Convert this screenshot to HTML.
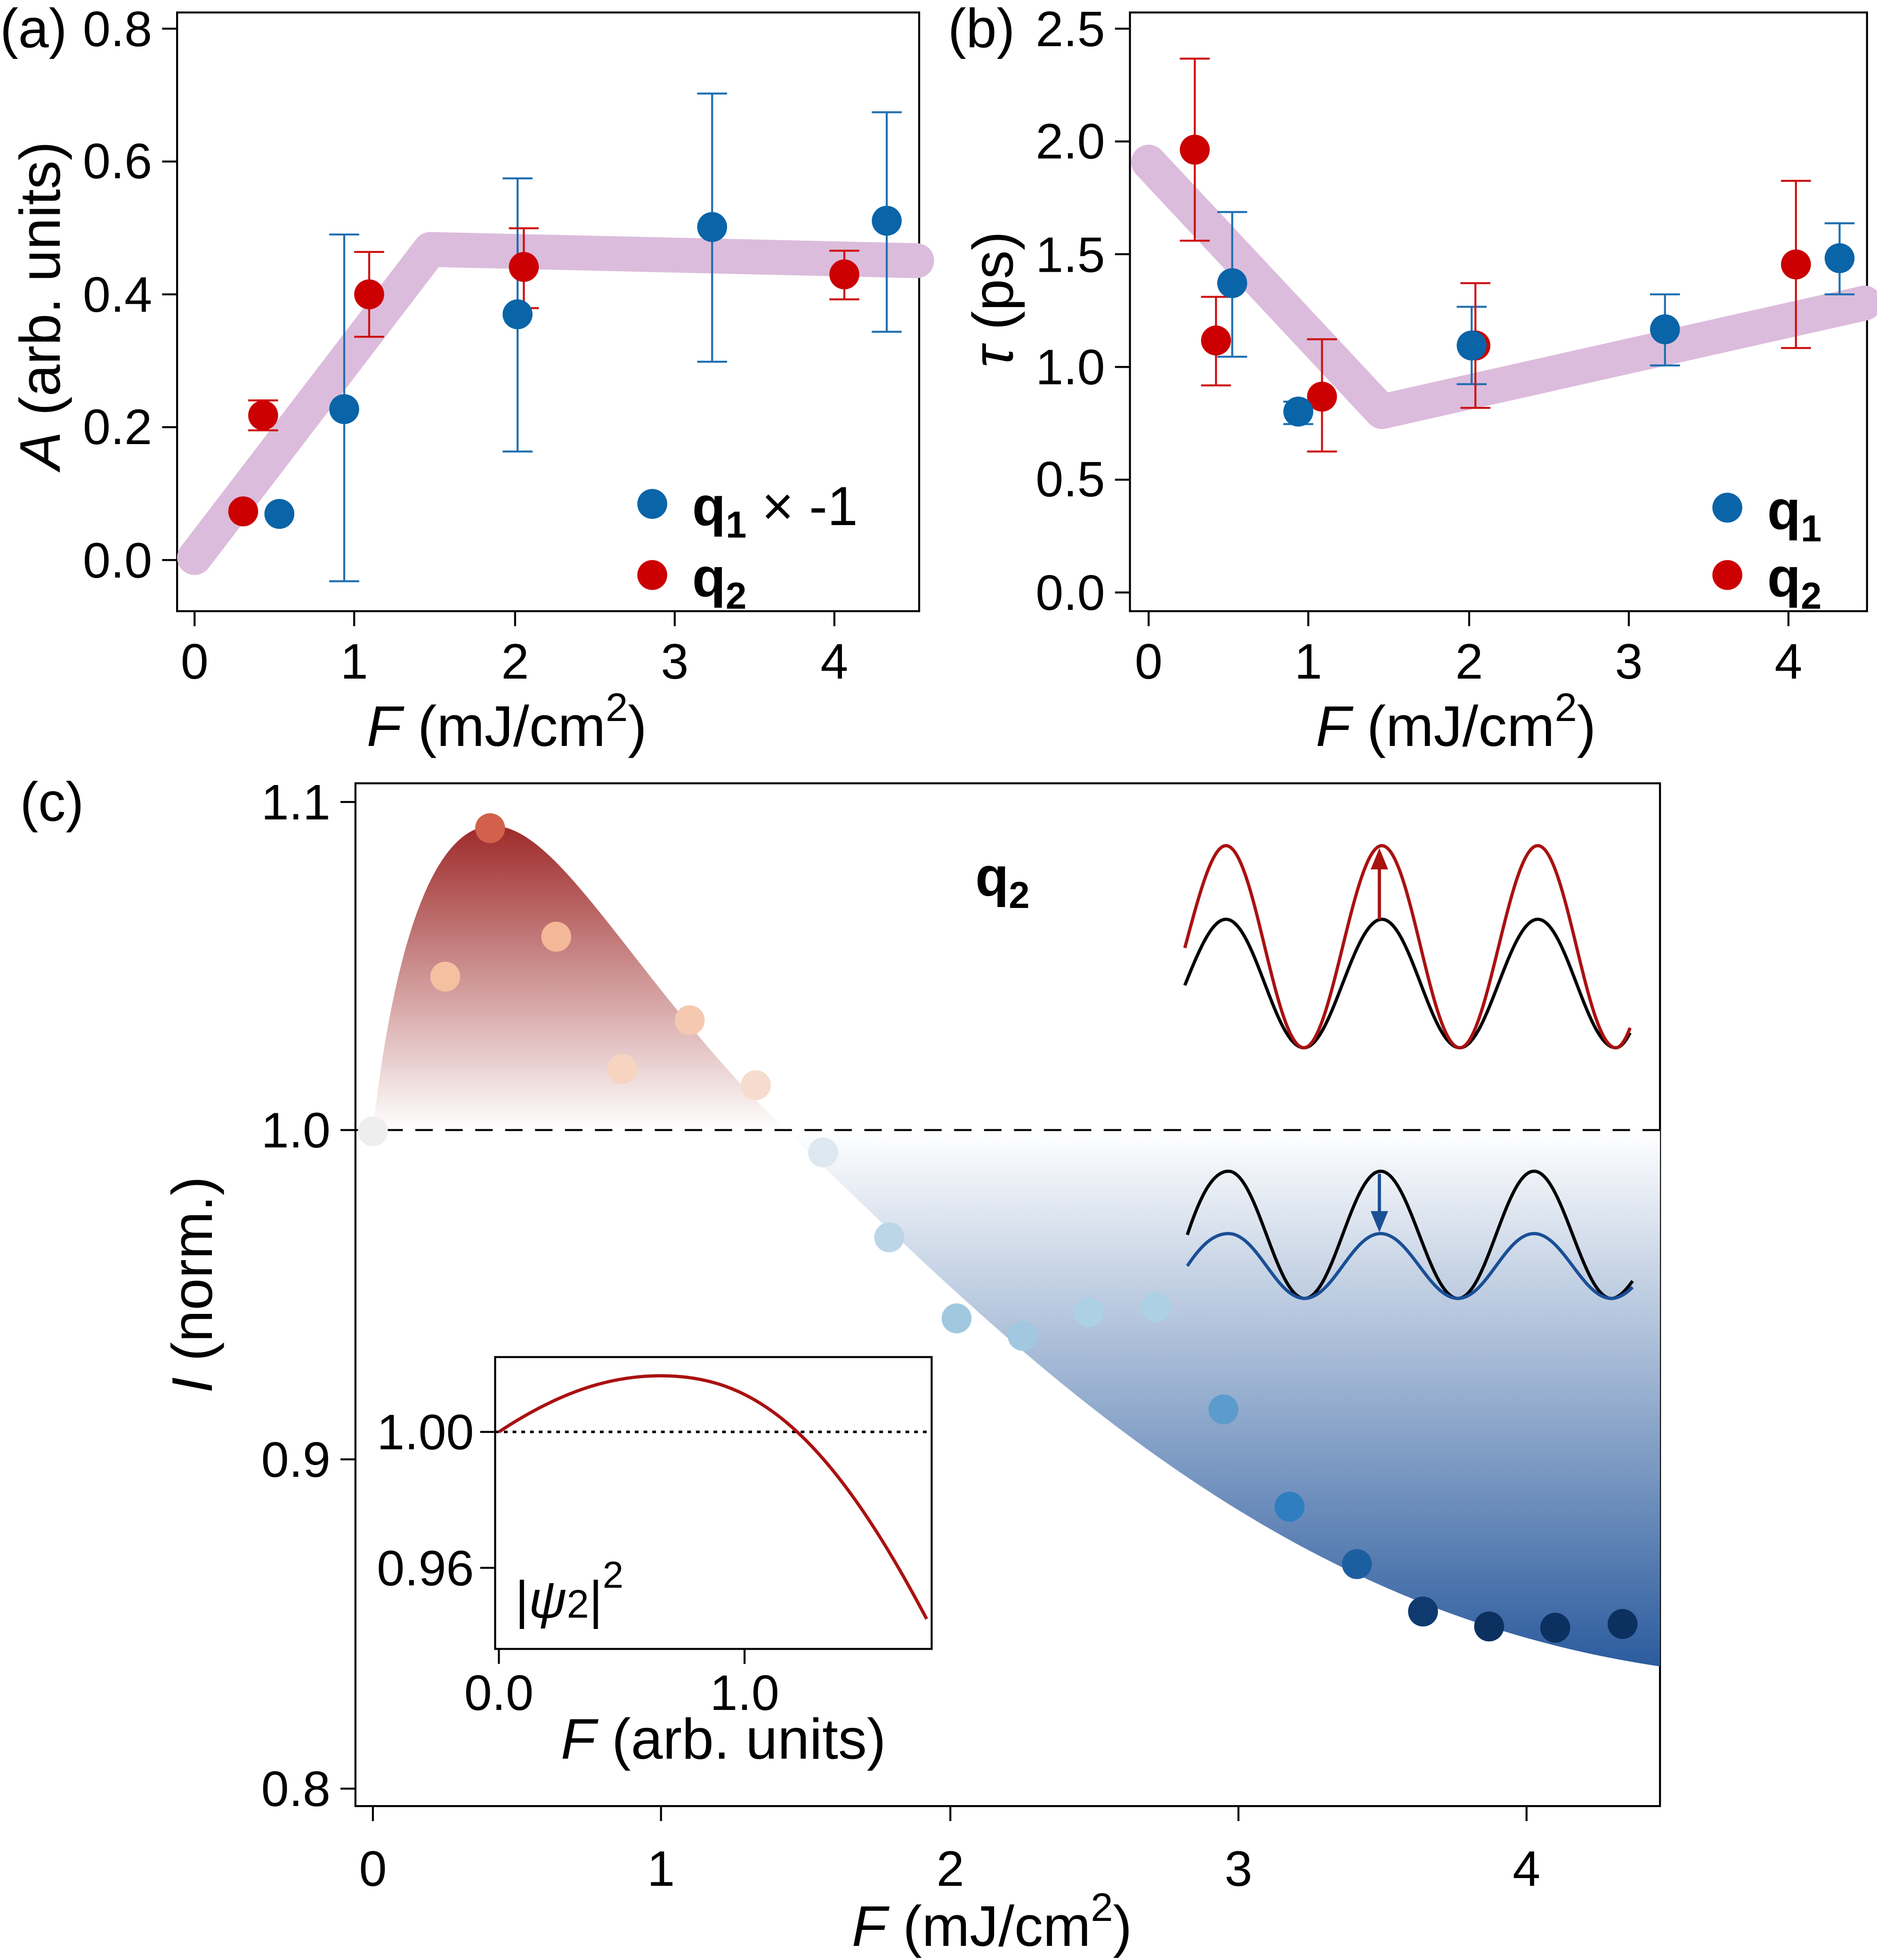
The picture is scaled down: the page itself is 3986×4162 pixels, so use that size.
<!DOCTYPE html>
<html><head><meta charset="utf-8"><style>
html,body{margin:0;padding:0;background:#fff}
svg{display:block}
text{font-family:"Liberation Sans",sans-serif;fill:#000}
</style></head><body>
<svg width="3986" height="4162" viewBox="0 0 1505 1571.4" preserveAspectRatio="none" xmlns="http://www.w3.org/2000/svg">
<defs>
<linearGradient id="rg" x1="0" y1="662" x2="0" y2="906" gradientUnits="userSpaceOnUse">
<stop offset="0" stop-color="#9e2a2a"/><stop offset="1" stop-color="#ffffff"/></linearGradient>
<linearGradient id="bg" x1="0" y1="906" x2="0" y2="1336" gradientUnits="userSpaceOnUse">
<stop offset="0" stop-color="#ffffff"/><stop offset="1" stop-color="#2c5c9e"/></linearGradient>
</defs>
<g stroke="#000" stroke-width="1.6" fill="none">
<rect x="142" y="10" width="595" height="480"/>
<path d="M130,23H142M130,129.5H142M130,236H142M130,342.5H142M130,449H142"/>
<path d="M156,490V502M284,490V502M413,490V502M541,490V502M669,490V502"/>
<rect x="906" y="10" width="591" height="480"/>
<path d="M894,23H906M894,113.4H906M894,203.8H906M894,294.2H906M894,384.6H906M894,475H906"/>
<path d="M921,490V502M1049,490V502M1178,490V502M1306,490V502M1434,490V502"/>
<rect x="285" y="628" width="1046" height="820"/>
<path d="M273,643H285M273,906H285M273,1170H285M273,1434H285"/>
<path d="M299,1448V1460M530,1448V1460M762,1448V1460M993,1448V1460M1224,1448V1460"/>
</g>
<g font-size="40" text-anchor="end">
<text x="122" y="37">0.8</text><text x="122" y="143">0.6</text><text x="122" y="250">0.4</text><text x="122" y="356">0.2</text><text x="122" y="463">0.0</text>
<text x="886" y="37">2.5</text><text x="886" y="127">2.0</text><text x="886" y="218">1.5</text><text x="886" y="308">1.0</text><text x="886" y="398">0.5</text><text x="886" y="489">0.0</text>
<text x="265" y="657">1.1</text><text x="265" y="920">1.0</text><text x="265" y="1184">0.9</text><text x="265" y="1448">0.8</text>
</g>
<g font-size="40" text-anchor="middle">
<text x="156" y="544">0</text><text x="284" y="544">1</text><text x="413" y="544">2</text><text x="541" y="544">3</text><text x="669" y="544">4</text>
<text x="921" y="544">0</text><text x="1049" y="544">1</text><text x="1178" y="544">2</text><text x="1306" y="544">3</text><text x="1434" y="544">4</text>
<text x="299" y="1512">0</text><text x="530" y="1512">1</text><text x="762" y="1512">2</text><text x="993" y="1512">3</text><text x="1224" y="1512">4</text>
</g>
<text x="0" y="38" font-size="44">(a)</text>
<text x="760" y="38" font-size="44">(b)</text>
<text x="16" y="658" font-size="44">(c)</text>
<text x="294" y="598" font-size="46"><tspan font-style="italic">F</tspan> (mJ/cm<tspan font-size="32" dy="-20">2</tspan><tspan dy="20">)</tspan></text>
<text x="1055" y="598" font-size="46"><tspan font-style="italic">F</tspan> (mJ/cm<tspan font-size="32" dy="-20">2</tspan><tspan dy="20">)</tspan></text>
<text x="683" y="1560" font-size="46"><tspan font-style="italic">F</tspan> (mJ/cm<tspan font-size="32" dy="-20">2</tspan><tspan dy="20">)</tspan></text>
<text transform="translate(48,245) rotate(-90)" font-size="46" text-anchor="middle"><tspan font-style="italic">A</tspan> (arb. units)</text>
<text transform="translate(812,240) rotate(-90)" font-size="46" text-anchor="middle"><tspan font-style="italic">τ</tspan> (ps)</text>
<text transform="translate(170,1030) rotate(-90)" font-size="46" text-anchor="middle"><tspan font-style="italic">I</tspan> (norm.)</text>

<path d="M156,447L345,200L735,209" stroke="#dcbcdc" stroke-width="28" fill="none" stroke-linecap="round" stroke-linejoin="round"/>
<path d="M921,130L1108,330L1495,243" stroke="#dcbcdc" stroke-width="28" fill="none" stroke-linecap="round" stroke-linejoin="round"/>

<g stroke="#1f6fb0" stroke-width="1.6">
<path d="M276,188V466M264,188H288M264,466H288"/>
<path d="M415,143V362M403,143H427M403,362H427"/>
<path d="M571,75V290M559,75H583M559,290H583"/>
<path d="M711,90V266M699,90H723M699,266H723"/>
<path d="M215,406V418M233,406V418"/>
<path d="M988,170V286M976,170H1000M976,286H1000"/>
<path d="M1041,322V340M1029,322H1053M1029,340H1053"/>
<path d="M1180,246V308M1168,246H1192M1168,308H1192"/>
<path d="M1335,236V293M1323,236H1347M1323,293H1347"/>
<path d="M1475,179V236M1463,179H1487M1463,236H1487"/>
</g>
<g stroke="#cc1111" stroke-width="1.6">
<path d="M211,321V345M199,321H223M199,345H223"/>
<path d="M296,202V270M284,202H308M284,270H308"/>
<path d="M420,183V247M408,183H432M408,247H432"/>
<path d="M677,201V240M665,201H689M665,240H689"/>
<path d="M958,47V193M946,47H970M946,193H970"/>
<path d="M975,238V309M963,238H987M963,309H987"/>
<path d="M1060,272V362M1048,272H1072M1048,362H1072"/>
<path d="M1183,227V327M1171,227H1195M1171,327H1195"/>
<path d="M1440,145V279M1428,145H1452M1428,279H1452"/>
</g>
<g fill="#cc0000">
<circle cx="195" cy="410" r="12"/><circle cx="211" cy="333" r="12"/><circle cx="296" cy="236" r="12"/><circle cx="420" cy="214" r="12"/><circle cx="677" cy="220" r="12"/>
<circle cx="958" cy="120" r="12"/><circle cx="975" cy="273" r="12"/><circle cx="1060" cy="318" r="12"/><circle cx="1183" cy="277" r="12"/><circle cx="1440" cy="212" r="12"/>
<circle cx="523" cy="461" r="12"/><circle cx="1385" cy="461" r="12"/>
</g>
<g fill="#0a64a8">
<circle cx="224" cy="412" r="12"/><circle cx="276" cy="328" r="12"/><circle cx="415" cy="252" r="12"/><circle cx="571" cy="182" r="12"/><circle cx="711" cy="177" r="12"/>
<circle cx="988" cy="227" r="12"/><circle cx="1041" cy="330" r="12"/><circle cx="1180" cy="277" r="12"/><circle cx="1335" cy="264" r="12"/><circle cx="1475" cy="207" r="12"/>
<circle cx="523" cy="404" r="12"/><circle cx="1385" cy="407" r="12"/>
</g>
<text x="555" y="421" font-size="44"><tspan font-weight="bold">q<tspan font-size="30" dy="10">1</tspan></tspan><tspan dy="-10"> × -1</tspan></text>
<text x="555" y="478" font-size="44" font-weight="bold">q<tspan font-size="30" dy="10">2</tspan></text>
<text x="1417" y="424" font-size="44" font-weight="bold">q<tspan font-size="30" dy="10">1</tspan></text>
<text x="1417" y="478" font-size="44" font-weight="bold">q<tspan font-size="30" dy="10">2</tspan></text>

<path d="M299,906C312,790 340,662 395,662C450,662 510,790 630,906Z" fill="url(#rg)"/>
<path d="M630,906C820,1090 1020,1290 1331,1336V906Z" fill="url(#bg)"/>
<path d="M285,906H1331" stroke="#000" stroke-width="1.6" stroke-dasharray="14,10"/>
<g>
<circle cx="299" cy="907" r="12" fill="#eeeeee"/>
<circle cx="357" cy="783" r="12" fill="#f5c0a0"/>
<circle cx="393" cy="664" r="12" fill="#d2604a"/>
<circle cx="446" cy="751" r="12" fill="#f3b898"/>
<circle cx="499" cy="857" r="12" fill="#f6d4c0"/>
<circle cx="553" cy="818" r="12" fill="#f5c8b0"/>
<circle cx="606" cy="870" r="12" fill="#f6dccc"/>
<circle cx="660" cy="924" r="12" fill="#dde8f0"/>
<circle cx="713" cy="992" r="12" fill="#bcd6e8"/>
<circle cx="767" cy="1057" r="12" fill="#a2c8e0"/>
<circle cx="820" cy="1071" r="12" fill="#a2c8e0"/>
<circle cx="873" cy="1052" r="12" fill="#acd0e4"/>
<circle cx="927" cy="1048" r="12" fill="#acd0e4"/>
<circle cx="981" cy="1130" r="12" fill="#5c9ccc"/>
<circle cx="1034" cy="1208" r="12" fill="#2e7ec0"/>
<circle cx="1088" cy="1254" r="12" fill="#1c5fa0"/>
<circle cx="1141" cy="1292" r="12" fill="#0e3a70"/>
<circle cx="1194" cy="1304" r="12" fill="#0c3060"/>
<circle cx="1247" cy="1305" r="12" fill="#0c3060"/>
<circle cx="1301" cy="1302" r="12" fill="#0c3060"/>
</g>
<text x="782" y="718" font-size="44" font-weight="bold">q<tspan font-size="30" dy="10">2</tspan></text>

<g fill="none" stroke-width="2.6">
<path stroke="#000" d="M950,790C962,760 972,737 983,737C1006,737 1022,840 1045.5,840C1068,840 1085,737 1108,737C1131,737 1147,840 1170.5,840C1193,840 1210,737 1233,737C1256,737 1272,840 1295.5,840C1300,840 1304,834 1307,828"/>
<path stroke="#aa1111" d="M950,760C962,715 972,678 983,678C1006,678 1022,840 1045.5,840C1068,840 1085,678 1108,678C1131,678 1147,840 1170.5,840C1193,840 1210,678 1233,678C1256,678 1272,840 1295.5,840C1300,840 1304,832 1307,824"/>
<path stroke="#000" d="M952,990C962,960 972,939 985,939C1008,939 1023,1041 1046,1041C1069,1041 1084,939 1107,939C1130,939 1146,1041 1169,1041C1192,1041 1207,939 1230,939C1253,939 1269,1041 1292,1041C1298,1041 1304,1034 1309,1027"/>
<path stroke="#1a4f96" d="M952,1015C962,1000 972,989 985,989C1008,989 1023,1041 1046,1041C1069,1041 1084,989 1107,989C1130,989 1146,1041 1169,1041C1192,1041 1207,989 1230,989C1253,989 1269,1041 1292,1041C1298,1041 1304,1037 1309,1032"/>
<path stroke="#aa1111" d="M1106,737V692"/>
<path stroke="#1a4f96" d="M1106,941V980"/>
</g>
<path d="M1106,680L1099,697H1113Z" fill="#aa1111"/>
<path d="M1106,988L1099,971H1113Z" fill="#1a4f96"/>

<rect x="397" y="1088" width="350" height="234" fill="#fff" stroke="#000" stroke-width="1.6"/>
<path d="M397,1148H747" stroke="#000" stroke-width="2" stroke-dasharray="3,4"/>
<path d="M385,1148H397M385,1257H397M400,1322V1334M597,1322V1334" stroke="#000" stroke-width="1.6"/>
<path d="M400,1148C450,1115 490,1103 530,1103C600,1103 660,1140 743,1298" fill="none" stroke="#aa1111" stroke-width="2.6"/>
<text x="380" y="1162" font-size="40" text-anchor="end">1.00</text>
<text x="380" y="1271" font-size="40" text-anchor="end">0.96</text>
<text x="400" y="1371" font-size="40" text-anchor="middle">0.0</text>
<text x="597" y="1371" font-size="40" text-anchor="middle">1.0</text>
<text x="413" y="1297" font-size="42">|<tspan font-style="italic">ψ</tspan><tspan font-size="32">2</tspan>|<tspan font-size="30" dy="-24">2</tspan></text>
<text x="580" y="1410" font-size="46" text-anchor="middle"><tspan font-style="italic">F</tspan> (arb. units)</text>
</svg>
</body></html>
